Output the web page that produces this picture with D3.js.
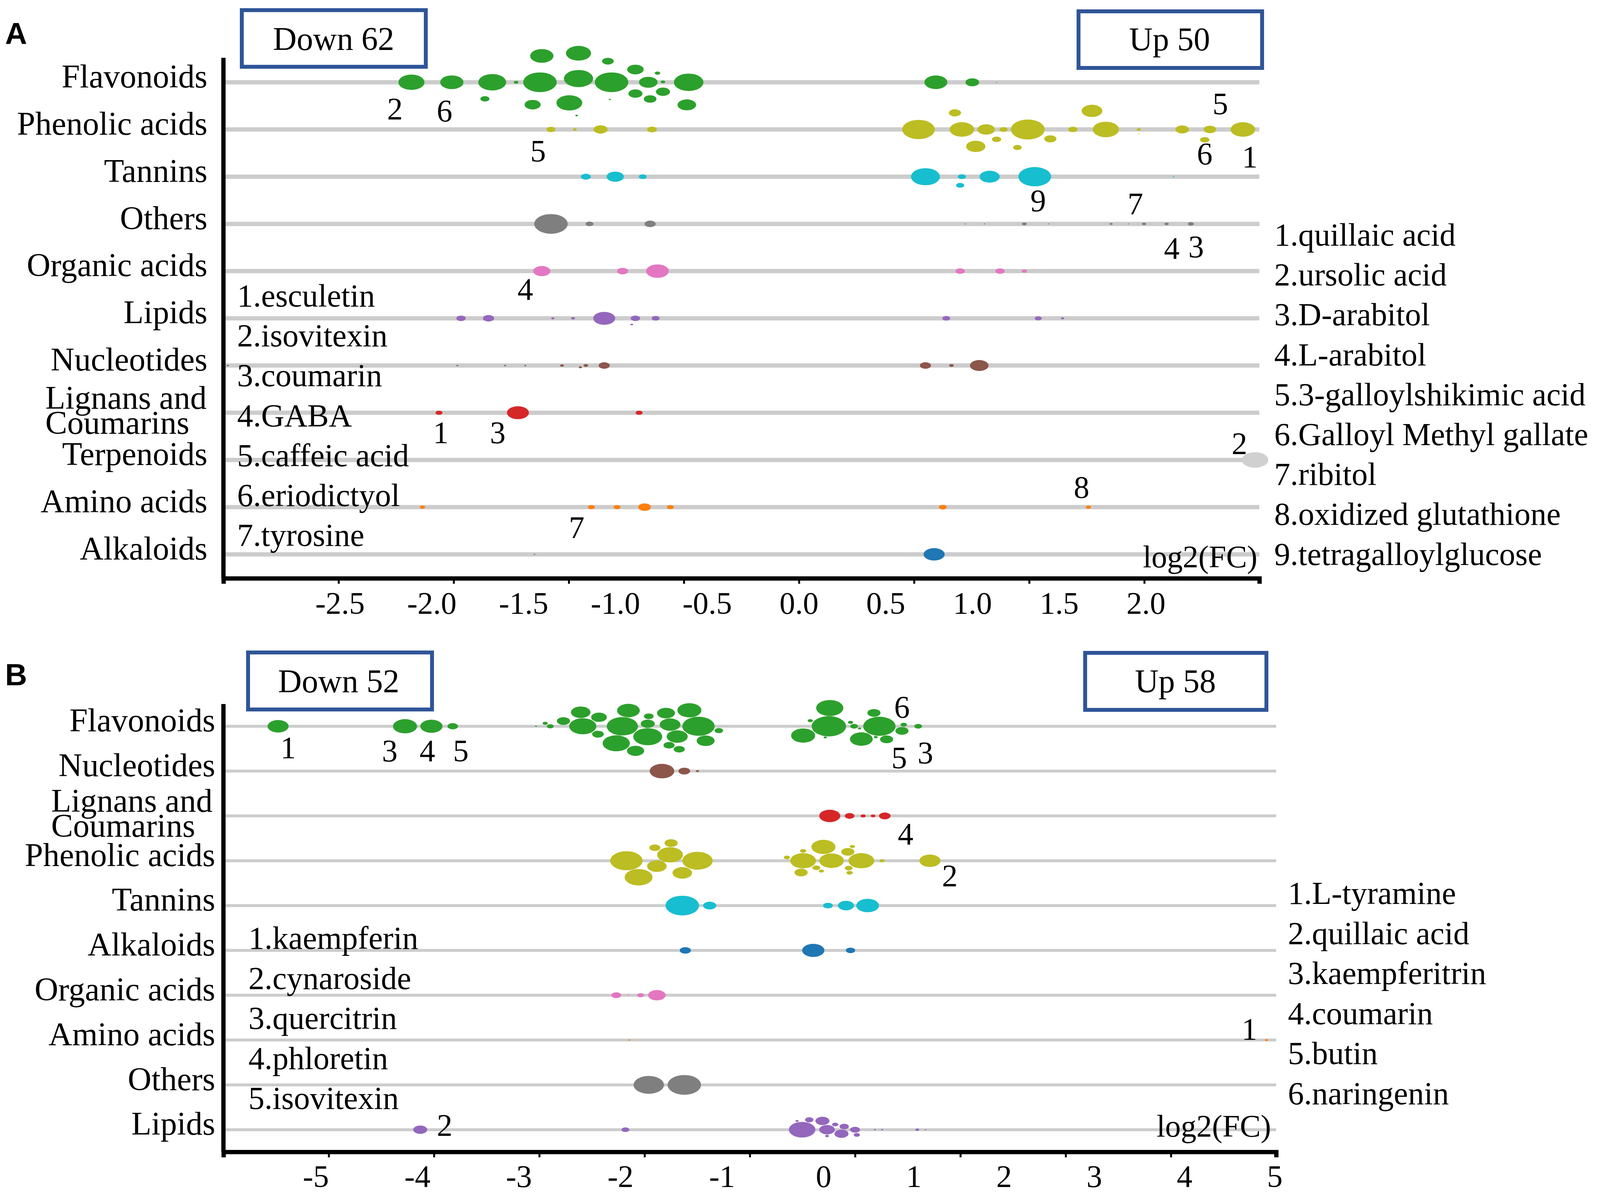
<!DOCTYPE html>
<html>
<head>
<meta charset="utf-8">
<script src="https://cdn.jsdelivr.net/npm/d3@7"></script>
<style>
  html, body { margin: 0; padding: 0; background: #fff; }
  svg { display: block; }
</style>
</head>
<body>
<div id="chart"></div>
<script>
// ---- categories (row order of each panel) ----
const rowsA = ["Flavonoids", "Phenolic acids", "Tannins", "Others", "Organic acids", "Lipids",
  "Nucleotides", "Lignans and Coumarins", "Terpenoids", "Amino acids", "Alkaloids"];
const rowsB = ["Flavonoids", "Nucleotides", "Lignans and Coumarins", "Phenolic acids", "Tannins",
  "Alkaloids", "Organic acids", "Amino acids", "Others", "Lipids"];
// colour order (alphabetical, category10 + light grey)
const classes = ["Alkaloids", "Amino acids", "Flavonoids", "Lignans and Coumarins", "Lipids", "Nucleotides",
  "Organic acids", "Others", "Phenolic acids", "Tannins", "Terpenoids"];

// ---- panel A : [log2FC, relative content] ----
const flavonoidsA = [[-2.11, 55], [-1.89, 44], [-1.71, 6.6], [-1.67, 63], [-1.54, 1.8], [-1.40, 44], [-1.41, 91],
  [-1.45, 21], [-1.20, 69], [-1.20, 51], [-1.21, 0.6], [-1.25, 54], [-1.04, 11], [-1.03, 0.4], [-1.02, 91],
  [-0.89, 16], [-0.89, 22], [-0.81, 13], [-0.82, 28], [-0.74, 16], [-0.77, 2.4], [-0.74, 1.8], [-0.61, 28],
  [-0.60, 71], [0.79, 43], [1.00, 15], [1.14, 0.1]];
const phenolicA = [[-1.35, 6.6], [-1.22, 1.2], [-1.08, 16], [-0.80, 7.7], [0.69, 87], [0.94, 49], [0.90, 12],
  [1.02, 30], [1.08, 25], [1.14, 7], [1.26, 6], [1.18, 5.4], [1.32, 93], [1.45, 12], [1.58, 7], [1.69, 35],
  [1.77, 56], [1.96, 0.1], [1.96, 1.5], [2.21, 15], [2.37, 13], [2.34, 7], [2.56, 49]];
const tanninsA = [[-1.16, 8], [-1.00, 24], [-0.85, 5], [0.73, 68], [0.94, 5.4], [0.93, 5.4], [1.10, 33],
  [1.36, 87], [2.16, 0.2]];
const othersA = [[-1.35, 91], [-1.14, 5], [-0.81, 10], [0.96, 0.2], [1.07, 0.2], [1.30, 2], [1.44, 0.2],
  [1.80, 0.8], [1.90, 0.2], [1.99, 1.5], [2.12, 1.5], [2.26, 2.9]];
const organicA = [[-1.40, 24], [-0.96, 10], [-0.77, 42], [0.93, 7], [1.16, 7], [1.30, 2.4]];
const lipidsA = [[-1.84, 7], [-1.69, 10], [-1.34, 0.8], [-1.23, 1.2], [-1.06, 39], [-0.89, 7], [-0.91, 0.6],
  [-0.78, 5], [0.85, 5], [1.38, 4], [1.52, 0.8]];
const nucleotidesA = [[-3.11, 0.4], [-1.86, 0.4], [-1.60, 0.4], [-1.49, 0.4], [-1.29, 1.2], [-1.19, 0.8],
  [-1.16, 1.8], [-1.06, 10], [0.73, 10], [0.88, 1.8], [1.04, 28]];
const lignansA = [[-1.96, 4], [-1.53, 39], [-0.87, 4]];
const terpenoidsA = [[2.63, 57]];
const aminoA = [[-2.05, 2.4], [-1.13, 4], [-0.99, 4], [-0.84, 13], [-0.70, 4], [0.83, 5], [1.67, 2.4]];
const alkaloidsA = [[-1.44, 0.2], [0.78, 36]];

// ---- panel B ----
const flavonoidsB = [[-5.37, 36], [-4.12, 47], [-3.86, 40], [-3.65, 9],
  [-2.83, 0.3], [-2.74, 2.2], [-2.69, 4], [-2.56, 14], [-2.39, 31], [-2.37, 60], [-2.21, 20], [-2.22, 11],
  [-2.04, 60], [-1.98, 79], [-1.92, 42], [-1.85, 24], [-1.73, 16], [-1.72, 7.6], [-1.73, 68], [-1.55, 26],
  [-1.52, 10], [-1.51, 35], [-1.42, 10], [-1.44, 36], [-1.32, 47], [-1.23, 85], [-1.16, 26], [-1.03, 6],
  [-0.20, 47], [0.06, 96], [0.07, 60], [-0.13, 2.2], [0.02, 0.8], [0.30, 2.2], [0.40, 0.8], [0.56, 14],
  [0.42, 42], [0.34, 5], [0.62, 85], [0.58, 1.2], [0.70, 14], [0.87, 14], [0.89, 3.4], [1.05, 5]];
const nucleotidesB = [[-1.59, 49], [-1.37, 11], [-1.24, 0.8]];
const lignansB = [[0.07, 36], [0.29, 7.6], [0.44, 2.2], [0.55, 1.8], [0.68, 11]];
const phenolicB = [[-1.94, 85], [-1.64, 31], [-1.39, 31], [-1.66, 10], [-1.50, 14], [-1.24, 75], [-1.82, 63],
  [-1.51, 54], [-0.36, 3.2], [-0.22, 14], [-0.20, 3.2], [0.00, 47], [-0.20, 54], [-0.07, 5], [0.09, 49],
  [0.27, 14], [0.29, 3.2], [0.42, 54], [0.32, 2.2], [0.28, 5], [-0.02, 2.2], [0.65, 2.2], [1.18, 36]];
const tanninsB = [[-1.39, 91], [-1.12, 14], [0.05, 7.6], [0.25, 21], [0.49, 42]];
const alkaloidsB = [[-1.36, 10], [-0.10, 40], [0.30, 7]];
const organicB = [[-2.04, 8], [-1.92, 0.2], [-1.80, 4], [-1.64, 25]];
const aminoB = [[-1.91, 0.4], [4.91, 0.8]];
const othersB = [[-1.72, 75], [-1.37, 91]];
const lipidsB = [[-3.97, 16], [-1.95, 5], [-0.21, 57], [-0.26, 0.8], [-0.14, 6], [-0.01, 16], [0.04, 1.2],
  [0.04, 20], [0.13, 3.2], [0.20, 16], [0.23, 7], [0.37, 3.2], [0.35, 8], [0.57, 0.4], [0.65, 0.4],
  [1.04, 1.2], [1.13, 0.2]];

// ---- tick labels ----
const ticksA = [-2.5, -2.0, -1.5, -1.0, -0.5, 0.0, 0.5, 1.0, 1.5, 2.0];
const ticksB = [-5, -4, -3, -2, -1, 0, 1, 2, 3, 4, 5];

// ---- metabolite keys ----
const downA = ["1.esculetin", "2.isovitexin", "3.coumarin", "4.GABA", "5.caffeic acid", "6.eriodictyol", "7.tyrosine"];
const upA = ["1.quillaic acid", "2.ursolic acid", "3.D-arabitol", "4.L-arabitol", "5.3-galloylshikimic acid",
  "6.Galloyl Methyl gallate", "7.ribitol", "8.oxidized glutathione", "9.tetragalloylglucose"];
const downB = ["1.kaempferin", "2.cynaroside", "3.quercitrin", "4.phloretin", "5.isovitexin"];
const upB = ["1.L-tyramine", "2.quillaic acid", "3.kaempferitrin", "4.coumarin", "5.butin", "6.naringenin"];

// number tags: [text, row, log2FC, offset from row line]
const tagsA = [["2", "Flavonoids", -2.20, 67], ["6", "Flavonoids", -1.93, 72], ["5", "Phenolic acids", -1.42, 54],
  ["5", "Phenolic acids", 2.43, -67], ["6", "Phenolic acids", 2.34, 61], ["1", "Phenolic acids", 2.60, 69],
  ["9", "Tannins", 1.38, 60], ["7", "Others", 1.94, -52], ["4", "Others", 2.15, 62], ["3", "Others", 2.29, 58],
  ["4", "Organic acids", -1.49, 46], ["1", "Lignans and Coumarins", -1.95, 50], ["3", "Lignans and Coumarins", -1.64, 50],
  ["2", "Terpenoids", 2.54, -43], ["8", "Amino acids", 1.63, -52], ["7", "Amino acids", -1.21, 51]];
const tagsB = [["1", "Flavonoids", -5.27, 54], ["3", "Flavonoids", -4.27, 62], ["4", "Flavonoids", -3.90, 62],
  ["5", "Flavonoids", -3.57, 62], ["6", "Flavonoids", 0.87, -50], ["5", "Flavonoids", 0.84, 80],
  ["3", "Flavonoids", 1.13, 67], ["4", "Lignans and Coumarins", 0.91, 45], ["2", "Phenolic acids", 1.40, 38],
  ["1", "Amino acids", 4.72, -29], ["2", "Lipids", -3.73, -12]];

const serif = "'Liberation Serif', 'Times New Roman', serif";
const W = 4107, H = 3063;
const squash = 1.7; // bubbles are drawn wider than tall

const color = d3.scaleOrdinal(classes, [...d3.schemeCategory10, "#d0d0d0"]);
const size = d3.scaleSqrt().domain([0, 100]).range([0, 45]);

const panels = [
  {
    letter: "A", letterY: 113, rows: rowsA,
    series: [["Flavonoids", flavonoidsA], ["Phenolic acids", phenolicA], ["Tannins", tanninsA], ["Others", othersA],
      ["Organic acids", organicA], ["Lipids", lipidsA], ["Nucleotides", nucleotidesA],
      ["Lignans and Coumarins", lignansA], ["Terpenoids", terpenoidsA], ["Amino acids", aminoA], ["Alkaloids", alkaloidsA]],
    x: d3.scaleLinear().domain([-3.134, 0, 2.655]).range([572, 2045, 3224]),
    tickPos: d3.scaleLinear().domain([0, 9]).range([572, 3224]), nTicks: 9,
    y: d3.scalePoint().domain(rowsA).range([210.7, 1419.7]),
    pack: { k: 1.15, pad: 5 },
    ticks: ticksA, fmt: d => d.toFixed(1),
    top: 148, axisY: 1481, tickTextY: 1572, gridW: 11, labelRight: 531, lignansX: 116,
    down: downA, downX: 607, downY: 785, up: upA, upX: 3262, upY: 629, keyStep: 102.2,
    boxes: [["Down 62", 619, 26, 471, 145, 854, 128], ["Up 50", 2761, 29, 470, 145, 2994, 129]],
    fcLabel: [3219, 1453], tags: tagsA
  },
  {
    letter: "B", letterY: 1755, rows: rowsB,
    series: [["Flavonoids", flavonoidsB], ["Nucleotides", nucleotidesB], ["Lignans and Coumarins", lignansB],
      ["Phenolic acids", phenolicB], ["Tannins", tanninsB], ["Alkaloids", alkaloidsB], ["Organic acids", organicB],
      ["Amino acids", aminoB], ["Others", othersB], ["Lipids", lipidsB]],
    x: d3.scaleLinear().domain([-5.908, 0, 5.017]).range([572, 2108, 3267]),
    tickPos: d3.scaleLinear().domain([0, 10]).range([572, 3267]), nTicks: 10,
    y: d3.scalePoint().domain(rowsB).range([1860, 2893.2]),
    pack: { k: 1.75, pad: 3 },
    ticks: ticksB, fmt: d => String(d),
    top: 1803, axisY: 2950, tickTextY: 3040, gridW: 7.5, labelRight: 551, lignansX: 131,
    down: downB, downX: 636, downY: 2430, up: upB, upX: 3297, upY: 2315, keyStep: 102.5,
    boxes: [["Down 52", 635, 1671, 471, 146, 867, 1773], ["Up 58", 2778, 1672, 464, 146, 3009, 1773]],
    fcLabel: [3254, 2911], tags: tagsB
  }
];

// beeswarm "dodge": larger bubbles first, each one moved off the line only as far as needed.
// offsets are worked out with y stretched by k, so the packing room is elliptical.
function dodge(nodes, k, pad) {
  const placed = [];
  nodes.slice().sort((a, b) => b.r - a.r || a.i - b.i).forEach((n, order) => {
    const cands = [0];
    placed.forEach(q => {
      const R = n.r + q.r + pad, dx = n.x - q.x;
      if (Math.abs(dx) < R) {
        const h = Math.sqrt(R * R - dx * dx);
        cands.push(q.off + h, q.off - h);
      }
    });
    const sgn = order % 2 ? -1 : 1;
    cands.sort((a, b) => Math.abs(a) - Math.abs(b) || sgn * (b - a));
    n.off = cands.find(c => placed.every(q => {
      const R = n.r + q.r + pad, dx = n.x - q.x, dy = c - q.off;
      return dx * dx + dy * dy >= R * R - 0.01;
    }));
    placed.push(n);
  });
  nodes.forEach(n => { n.y = n.base + n.off / k; });
}

const svg = d3.select("#chart").append("svg")
  .attr("width", W).attr("height", H)
  .attr("font-family", serif);
svg.append("rect").attr("width", W).attr("height", H).attr("fill", "#fff");

panels.forEach(p => {
  const g = svg.append("g");
  const [x0, x1] = [p.x.range()[0], p.x.range()[2]];

  // grid lines for each class
  g.append("g").selectAll("line").data(p.rows).join("line")
    .attr("x1", x0).attr("x2", x1)
    .attr("y1", d => p.y(d)).attr("y2", d => p.y(d))
    .attr("stroke", "#cccccc").attr("stroke-width", p.gridW);

  // bubbles
  const nodes = [];
  p.series.forEach(([row, vals]) => {
    const rowNodes = vals.map(([fc, v], i) => ({
      row, fc, v, i, r: Math.max(1.6, size(v)), x: p.x(fc), base: p.y(row)
    }));
    dodge(rowNodes, p.pack.k, p.pack.pad);
    nodes.push(...rowNodes);
  });

  g.append("g").selectAll("ellipse").data(nodes).join("ellipse")
    .attr("cx", d => d.x).attr("cy", d => d.y)
    .attr("rx", d => d.r).attr("ry", d => d.r / squash)
    .attr("fill", d => color(d.row));

  // x axis: tick marks on an evenly split line, labels from the value scale
  const tickAxis = g.append("g").attr("transform", `translate(0,${p.axisY})`)
    .call(d3.axisBottom(p.tickPos).ticks(p.nTicks).tickSize(14).tickFormat(""));
  tickAxis.select(".domain").attr("stroke", "#000").attr("stroke-width", 11).attr("fill", "none");
  tickAxis.selectAll(".tick line").attr("stroke", "#000").attr("stroke-width", 5);

  const labAxis = g.append("g").attr("transform", `translate(0,${p.axisY})`)
    .call(d3.axisBottom(p.x).tickValues(p.ticks).tickFormat(p.fmt).tickSize(0));
  labAxis.select(".domain").remove();
  labAxis.attr("font-family", serif);
  labAxis.selectAll("text").attr("y", p.tickTextY - p.axisY).attr("dy", 0)
    .attr("font-size", 80).attr("fill", "#000");

  // y axis line
  g.append("line").attr("x1", x0).attr("x2", x0).attr("y1", p.top).attr("y2", p.axisY)
    .attr("stroke", "#000").attr("stroke-width", 11);

  // class labels
  const yAxis = g.append("g").attr("transform", `translate(${p.labelRight},0)`)
    .call(d3.axisLeft(p.y).tickSize(0).tickPadding(0));
  yAxis.select(".domain").remove();
  yAxis.attr("font-family", serif);
  yAxis.selectAll("text").attr("font-size", 84).attr("fill", "#000").attr("dy", "0.15em")
    .each(function (d) {
      if (d !== "Lignans and Coumarins") return;
      const t = d3.select(this).text(null).attr("text-anchor", "start").attr("dy", null)
        .attr("x", p.lignansX - p.labelRight).attr("y", 0);
      t.append("tspan").attr("x", p.lignansX - p.labelRight).attr("dy", -11).text("Lignans and");
      t.append("tspan").attr("x", p.lignansX - p.labelRight).attr("dy", 64).text("Coumarins");
    });

  // number tags
  g.append("g").selectAll("text").data(p.tags).join("text")
    .attr("x", d => p.x(d[2])).attr("y", d => p.y(d[1]) + d[3])
    .attr("dy", "0.35em").attr("text-anchor", "middle")
    .attr("font-size", 80).text(d => d[0]);

  // keys
  g.append("g").selectAll("text").data(p.down).join("text")
    .attr("x", p.downX).attr("y", (d, i) => p.downY + i * p.keyStep)
    .attr("font-size", 82).text(d => d);
  g.append("g").selectAll("text").data(p.up).join("text")
    .attr("x", p.upX).attr("y", (d, i) => p.upY + i * p.keyStep)
    .attr("font-size", 82).text(d => d);

  g.append("text").attr("x", p.fcLabel[0]).attr("y", p.fcLabel[1])
    .attr("text-anchor", "end").attr("font-size", 80).text("log2(FC)");

  // Down / Up boxes
  p.boxes.forEach(([t, bx, by, bw, bh, tx, ty]) => {
    g.append("rect").attr("x", bx).attr("y", by).attr("width", bw).attr("height", bh)
      .attr("fill", "#fff").attr("stroke", "#2f5597").attr("stroke-width", 10);
    g.append("text").attr("x", tx).attr("y", ty).attr("text-anchor", "middle")
      .attr("font-size", 84).text(t);
  });

  // panel letter
  g.append("text").attr("x", 13).attr("y", p.letterY)
    .attr("font-family", "'Liberation Sans', Arial, sans-serif").attr("font-weight", "bold")
    .attr("font-size", 78).text(p.letter);
});
</script>
</body>
</html>
